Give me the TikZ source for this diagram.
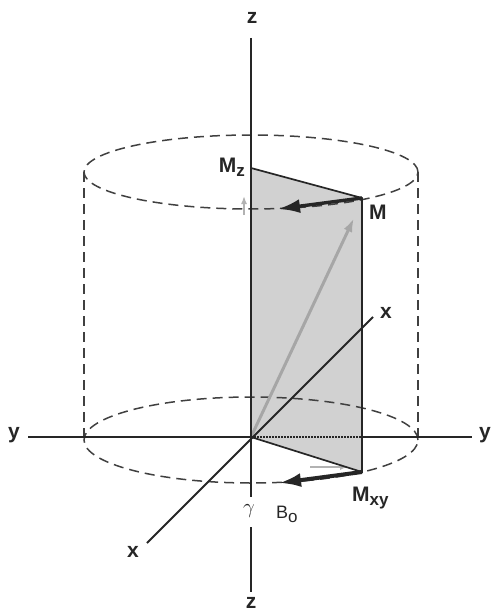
\documentclass[tikz,border=0pt]{standalone}
\usepackage{fontspec}
\setmainfont{Liberation Sans}
\usetikzlibrary{arrows.meta}
\tikzset{
  axis/.style={line width=2pt, black!85},
  cyl/.style={line width=1.5pt, black!75, dash pattern=on 10pt off 6pt},
  edge/.style={line width=1.7pt, black!85},
  bigarrow/.style={line width=3.4pt, black!85, -{Latex[length=22pt,width=14pt]}},
  ghost/.style={line width=3pt, black!35, -{Latex[length=14pt,width=9pt]}},
  lab/.style={font=\fontsize{21}{21}\selectfont\bfseries, inner sep=0pt, text=black!85},
  shade/.style={fill=black!18}
}
\newcommand{\sub}[1]{\raisebox{-0.45ex}{\fontsize{17}{17}\selectfont #1}}
\begin{document}
\begin{tikzpicture}[x=1pt,y=-1pt]
\useasboundingbox (0,0) rectangle (494,615);
% key points
\coordinate (O) at (251,437);
\coordinate (Mz) at (251,168);
\coordinate (M) at (362,198);
\coordinate (Mxy) at (362,472);
\coordinate (Y1) at (362,437);
\coordinate (Ztop) at (251,38);
\coordinate (Zb1) at (251,497);
\coordinate (Zb2) at (251,527);
\coordinate (Zbot) at (251,592);
\coordinate (Yl) at (28,437);
\coordinate (Yr) at (472,437);
\coordinate (Xu) at (373,317);
\coordinate (Xl) at (147,543);
\coordinate (Mtip) at (278,209);
\coordinate (Mxytip) at (279,483);
\coordinate (Gtip) at (354,218);
% shaded plane
\fill[shade] (Mz) -- (M) -- (Mxy) -- (O) -- cycle;
% cylinder
\draw[cyl] (251,172) ellipse [x radius=167pt, y radius=37pt];
\draw[cyl] (251,440) ellipse [x radius=167pt, y radius=43pt];
\draw[cyl] (84,172) -- (84,440);
\draw[cyl] (418,172) -- (418,440);
% ghost arrows
\draw[ghost] (O) -- (Gtip);
\draw[line width=1.5pt, black!30, -{Latex[length=8pt,width=6pt]}] (244,215) -- (244,196);
\draw[line width=1.5pt, black!30, -{Latex[length=8pt,width=6pt]}] (310,467) -- (348,467);
% axes
\draw[axis] (Ztop) -- (Zb1);
\draw[axis] (Zb2) -- (Zbot);
\draw[axis] (Yl) -- (O);
\draw[axis, dash pattern=on 1.5pt off 1.5pt] (O) -- (Y1);
\draw[axis] (Y1) -- (Yr);
\draw[axis] (Xl) -- (Xu);
% plane edges
\draw[edge] (Mz) -- (M) -- (Mxy) -- (O);
% precession arrows
\draw[bigarrow] (M) -- (Mtip);
\draw[bigarrow, line width=4pt] (Mxy) -- (Mxytip);
% labels
\node[lab] (lzt) at (252,18) {z};
\node[lab] (lzb) at (251,603) {z};
\node[lab] (lyl) at (14,435) {y};
\node[lab] (lyr) at (485,435) {y};
\node[lab] (lxu) at (386,313) {x};
\node[lab] (lxl) at (133,552) {x};
\node[lab, anchor=base east] (lmz) at (245,172) {M\sub{z}};
\node[lab, anchor=base west] (lm) at (369,219) {M};
\node[lab, anchor=base west] (lmxy) at (352,501) {M\sub{xy}};
\node[lab, font=\fontsize{20}{20}\selectfont] (lg) at (249,511) {$\gamma$};
\node[lab, anchor=base west, font=\fontsize{18}{18}\selectfont] (lb) at (276,518) {B\sub{o}};
\end{tikzpicture}
\end{document}
